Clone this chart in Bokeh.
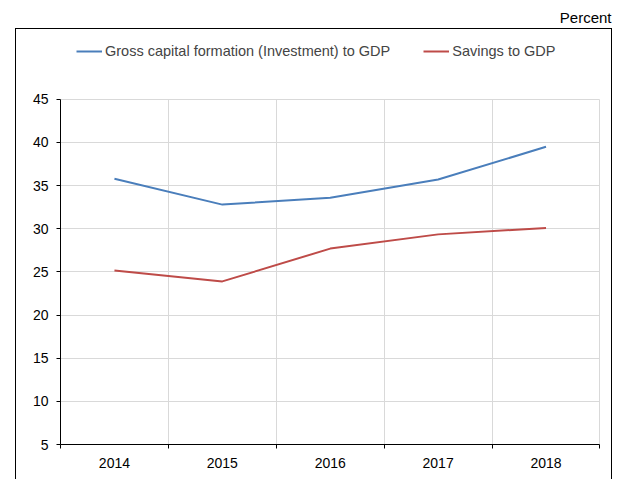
from bokeh.plotting import figure
from bokeh.models import ColumnDataSource, FixedTicker, Legend, LegendItem, Range1d
from bokeh.embed import file_html
from bokeh.resources import INLINE

years = ["2014", "2015", "2016", "2017", "2018"]
investment = [35.8, 32.8, 33.6, 35.7, 39.5]
savings = [25.15, 23.9, 27.7, 29.35, 30.1]
y_ticks = [5, 10, 15, 20, 25, 30, 35, 40, 45]
unit_label = "Percent"
series_names = ["Gross capital formation (Investment) to GDP", "Savings to GDP"]

FONT = "Liberation Sans"
xs = list(range(len(years)))
src = ColumnDataSource(dict(x=xs, inv=investment, sav=savings))
y_lo, y_hi = min(y_ticks), max(y_ticks)
x_lo, x_hi = -0.5, len(years) - 0.5

# outer chart box drawn as css background lines behind a transparent canvas border
box_css = {
    "background-color": "white",
    "background-image": "linear-gradient(#000,#000),linear-gradient(#000,#000),linear-gradient(#000,#000)",
    "background-size": "1px 451px, 597px 1px, 1px 451px",
    "background-position": "15px 28px, 15px 28px, 611px 28px",
    "background-repeat": "no-repeat",
}

p = figure(width=622, height=479, output_backend="svg", toolbar_location=None,
           x_range=Range1d(x_lo, x_hi + 0.005), y_range=Range1d(y_lo, 52.86),
           min_border_left=60, min_border_right=22, min_border_top=30, min_border_bottom=35,
           styles=box_css)
p.outline_line_color = None
p.background_fill_color = "white"
p.border_fill_color = None

p.title.text = unit_label
p.title.align = "right"
p.title.offset = -11
p.title.standoff = 12
p.title.text_font = FONT
p.title.text_font_size = "15px"
p.title.text_font_style = "normal"
p.title.text_color = "black"

r1 = p.line("x", "inv", source=src, line_color="#4A7EBB", line_width=2)
r2 = p.line("x", "sav", source=src, line_color="#BE4B48", line_width=2)

bounds = [i - 0.5 for i in range(len(years) + 1)]
p.xaxis.ticker = FixedTicker(ticks=xs, minor_ticks=bounds)
p.xaxis.bounds = (x_lo, x_hi)
p.xaxis.major_label_overrides = {i: y for i, y in enumerate(years)}
p.xaxis.major_tick_line_color = None
p.xaxis.minor_tick_line_color = "black"
p.xaxis.minor_tick_out = 4
p.xaxis.minor_tick_in = 0
p.xaxis.major_label_standoff = 7
p.xaxis.axis_line_color = "black"
p.xaxis.major_label_text_font = FONT
p.xaxis.major_label_text_font_size = "14px"
p.xaxis.major_label_text_color = "black"

p.yaxis.ticker = FixedTicker(ticks=y_ticks)
p.yaxis.bounds = (y_lo, y_hi)
p.yaxis.major_tick_out = 4
p.yaxis.major_tick_in = 0
p.yaxis.minor_tick_line_color = None
p.yaxis.major_label_standoff = 8
p.yaxis.axis_line_color = "black"
p.yaxis.major_label_text_font = FONT
p.yaxis.major_label_text_font_size = "14px"
p.yaxis.major_label_text_color = "black"

p.xgrid.grid_line_color = None
p.xgrid.minor_grid_line_color = "#d9d9d9"
p.ygrid.grid_line_color = "#d9d9d9"
if "cross_bounds" in p.xgrid[0].properties():
    p.xgrid.cross_bounds = (y_lo, y_hi)
    p.ygrid.cross_bounds = (x_lo, x_hi)
else:
    p.segment(x0=bounds, x1=bounds, y0=[y_lo] * len(bounds), y1=[y_hi] * len(bounds),
              line_color="#d9d9d9", line_width=1)
    p.xgrid.minor_grid_line_color = None

legend = Legend(items=[LegendItem(label=series_names[0], renderers=[r1]),
                       LegendItem(label=series_names[1], renderers=[r2])],
                orientation="horizontal", location=(16, 383),
                padding=0, margin=0, spacing=33, glyph_width=26, glyph_height=20,
                label_standoff=3, label_height=20,
                label_text_font=FONT, label_text_font_size="14.5px",
                border_line_color=None, background_fill_alpha=0)
p.add_layout(legend, "center")

open("out.html", "w").write(file_html(p, INLINE))
